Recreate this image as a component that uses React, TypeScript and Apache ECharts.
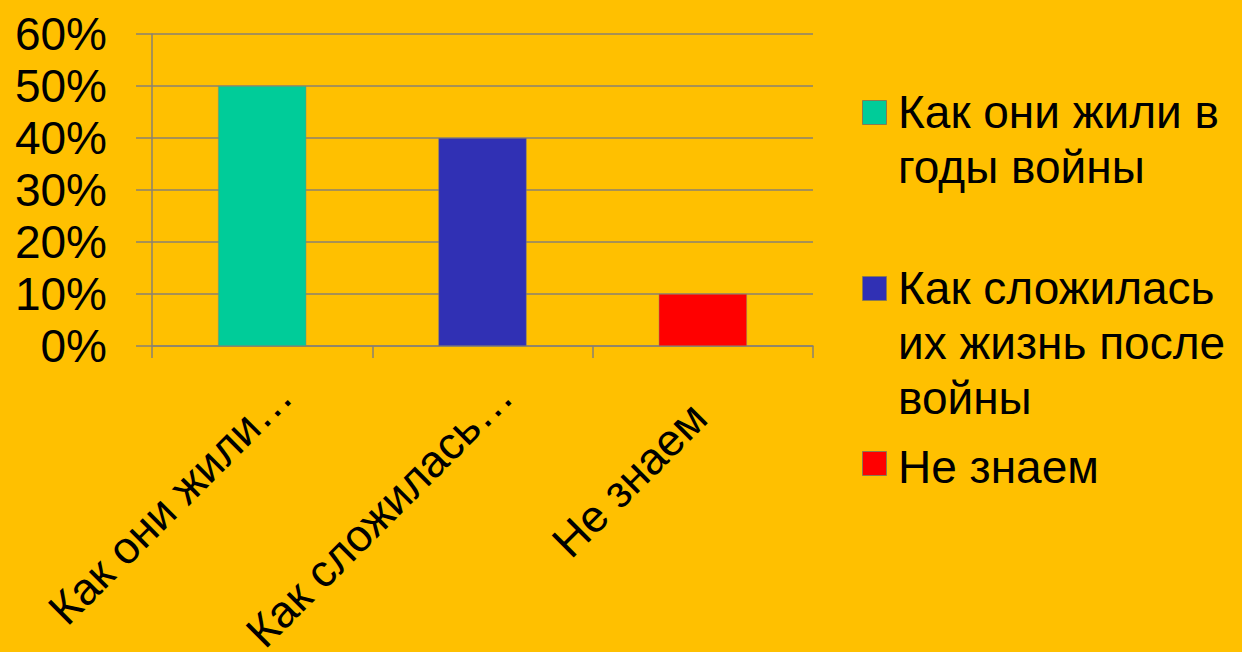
import React, { useEffect, useRef } from "react";
import * as echarts from "echarts";

const categories = ["Как они жили…", "Как сложилась…", "Не знаем"];
const legendNames = [
  "Как они жили в\nгоды войны",
  "Как сложилась\nих жизнь после\nвойны",
  "Не знаем",
];
const values = [0.5, 0.4, 0.1];
const colors = ["#00CC99", "#3030B4", "#FF0000"];

const FONT = "'Liberation Sans', Arial, sans-serif";
const AXIS_COLOR = "#8A8270";

export default function App() {
  const ref = useRef<HTMLDivElement>(null);

  useEffect(() => {
    if (!ref.current) return;
    const chart = echarts.init(ref.current, null, { renderer: "svg" });

    const legendTops = [84, 260, 439];
    const squareTops = [100, 276, 451];
    const graphic: any[] = [];
    legendNames.forEach((name, i) => {
      graphic.push({
        type: "rect",
        left: 862,
        top: squareTops[i],
        shape: { width: 24, height: 24 },
        style: { fill: colors[i], stroke: "#8A7A50", lineWidth: 1 },
      });
      graphic.push({
        type: "text",
        left: 898,
        top: legendTops[i],
        style: {
          text: name,
          fill: "#000",
          fontSize: 46,
          fontFamily: FONT,
          lineHeight: 55,
        },
      });
    });

    chart.setOption({
      animation: false,
      backgroundColor: "#FFC000",
      grid: {
        left: 152,
        width: 661,
        top: 34,
        height: 312,
        containLabel: false,
        outerBoundsMode: "none",
      },
      xAxis: {
        type: "category",
        data: categories.map((c, i) =>
          i === 2
            ? {
                value: c,
                textStyle: { align: "right", verticalAlign: "top", padding: [6, 34, 0, 0] },
              }
            : c
        ),
        axisLine: { show: true, lineStyle: { color: AXIS_COLOR, width: 1.5 } },
        axisTick: { show: true, length: 12, lineStyle: { color: AXIS_COLOR, width: 1.5 } },
        axisLabel: {
          rotate: 45,
          interval: 0,
          margin: 20,
          align: "right",
          verticalAlign: "top",
          padding: [9, 0, 0, 0],
          color: "#000",
          fontSize: 45,
          fontFamily: FONT,
        },
      },
      yAxis: {
        type: "value",
        min: 0,
        max: 0.6,
        interval: 0.1,
        axisLine: { show: true, lineStyle: { color: AXIS_COLOR, width: 1.5 } },
        axisTick: { show: true, length: 16, lineStyle: { color: AXIS_COLOR, width: 1.5 } },
        splitLine: { show: true, lineStyle: { color: AXIS_COLOR, width: 1.5 } },
        axisLabel: {
          margin: 45,
          color: "#000",
          fontSize: 46,
          fontFamily: FONT,
          formatter: (v: number) => `${Math.round(v * 100)}%`,
        },
      },
      series: [
        {
          type: "bar",
          barWidth: "40%",
          data: values.map((v, i) => ({
            value: v,
            itemStyle: { color: colors[i], borderColor: "#8A8270", borderWidth: 0.5 },
          })),
        },
      ],
      graphic,
    });

    return () => chart.dispose();
  }, []);

  return (
    <div
      ref={ref}
      style={{ position: "absolute", left: 0, top: 0, width: 1242, height: 652 }}
    />
  );
}
